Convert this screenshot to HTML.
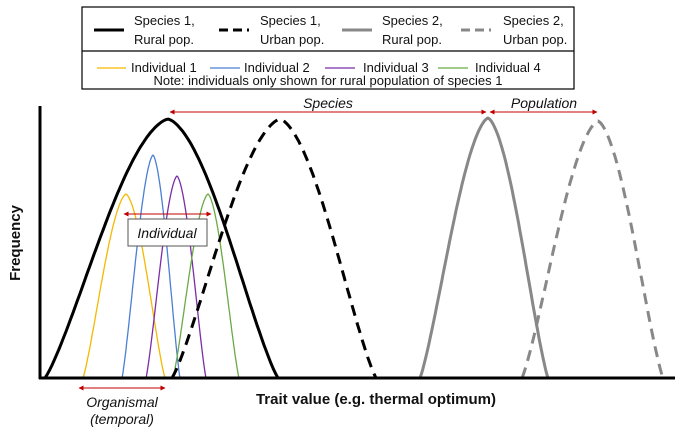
<!DOCTYPE html>
<html><head><meta charset="utf-8"><style>
body{margin:0;background:#fff;}
svg{display:block;font-family:"Liberation Sans",sans-serif;}
</style></head><body>
<svg id="s" width="675" height="428" viewBox="0 0 675 428" xmlns="http://www.w3.org/2000/svg">
<defs><marker id="a" viewBox="0 0 10 10" refX="9" refY="5" markerWidth="5" markerHeight="5" orient="auto-start-reverse"><path d="M0,0L10,5L0,10z" fill="#c00000"/></marker></defs>
<rect x="82" y="7" width="492" height="82" fill="#fff" stroke="#000" stroke-width="1.2"/>
<line x1="82" y1="51" x2="574" y2="51" stroke="#000" stroke-width="1.2"/>
<g font-size="13" fill="#111">
<line x1="94" y1="30" x2="124" y2="30" stroke="#000" stroke-width="3"/>
<text x="134" y="25">Species 1,</text><text x="134" y="44">Rural pop.</text>
<line x1="219" y1="30" x2="249" y2="30" stroke="#000" stroke-width="3" stroke-dasharray="9,5"/>
<text x="260" y="25">Species 1,</text><text x="260" y="44">Urban pop.</text>
<line x1="342" y1="30" x2="372" y2="30" stroke="#888" stroke-width="3"/>
<text x="382" y="25">Species 2,</text><text x="382" y="44">Rural pop.</text>
<line x1="461" y1="30" x2="491" y2="30" stroke="#888" stroke-width="3" stroke-dasharray="9,5"/>
<text x="503" y="25">Species 2,</text><text x="503" y="44">Urban pop.</text>
<line x1="97" y1="68" x2="126" y2="68" stroke="#f5b800" stroke-width="1.3"/><text x="131" y="72">Individual 1</text>
<line x1="210" y1="68" x2="240" y2="68" stroke="#4a7fd4" stroke-width="1.3"/><text x="244" y="72">Individual 2</text>
<line x1="325" y1="68" x2="355" y2="68" stroke="#7a2ea8" stroke-width="1.3"/><text x="363" y="72">Individual 3</text>
<line x1="438" y1="68" x2="468" y2="68" stroke="#6aaa45" stroke-width="1.3"/><text x="475" y="72">Individual 4</text>
<text x="328" y="85" text-anchor="middle">Note: individuals only shown for rural population of species 1</text>
</g>
<g id="c"></g>
<line x1="40" y1="106" x2="40" y2="379" stroke="#000" stroke-width="3"/>
<line x1="39" y1="378" x2="675" y2="378" stroke="#000" stroke-width="3"/>
<g stroke="#c00000" stroke-width="1" marker-start="url(#a)" marker-end="url(#a)">
<line x1="170" y1="112" x2="486" y2="112"/>
<line x1="490" y1="112" x2="597" y2="112"/>
<line x1="124" y1="214" x2="211" y2="214"/>
<line x1="79" y1="388" x2="165" y2="388"/>
</g>
<rect x="128" y="219" width="79" height="27" fill="#fff" stroke="#555" stroke-width="1"/>
<g font-size="14" font-style="italic" fill="#111" text-anchor="middle">
<text x="167" y="238">Individual</text>
<text x="328" y="108">Species</text>
<text x="544" y="108">Population</text>
<text x="122" y="407">Organismal</text>
<text x="122" y="424">(temporal)</text>
</g>
<text x="376" y="404" font-size="15" font-weight="bold" text-anchor="middle" fill="#111">Trait value (e.g. thermal optimum)</text>
<text transform="translate(20,243) rotate(-90)" font-size="15" font-weight="bold" text-anchor="middle" fill="#111">Frequency</text>
</svg>
<script>
var g=document.getElementById('c');
function curve(x0,xp,x1,yp,col,w,dash){
 var d='',n=100,b=378;
 for(var i=0;i<=n;i++){var x=x0+(x1-x0)*i/n;var t;
  if(x<=xp)t=(x-x0)/(xp-x0)*0.5;else t=0.5+(x-xp)/(x1-xp)*0.5;
  var s=Math.sin(Math.PI*t);var a=Math.abs(2*t-1);
  var f=0.6*Math.pow(s,1.4)+0.4*(1-Math.pow(a,1.3));
  var y=b-(b-yp)*f;
  d+=(i?'L':'M')+x.toFixed(1)+','+y.toFixed(1);}
 var p=document.createElementNS('http://www.w3.org/2000/svg','path');
 p.setAttribute('d',d);p.setAttribute('fill','none');p.setAttribute('stroke',col);p.setAttribute('stroke-width',w);
 p.setAttribute('stroke-linejoin','round');
 if(dash)p.setAttribute('stroke-dasharray',dash);g.appendChild(p);}
curve(83,126,165,194,'#f5b800',1.3);
curve(122,153,180,155,'#4a7fd4',1.3);
curve(146,177,206,176,'#7a2ea8',1.3);
curve(173,208,239,194,'#6aaa45',1.3);
curve(45,168,278,119,'#000',3);
curve(172,280,376,119,'#000',3,'11,7');
curve(420,488,548,118,'#888',3);
curve(522,598,663,121,'#888',3,'11,7');
</script>
</body></html>
